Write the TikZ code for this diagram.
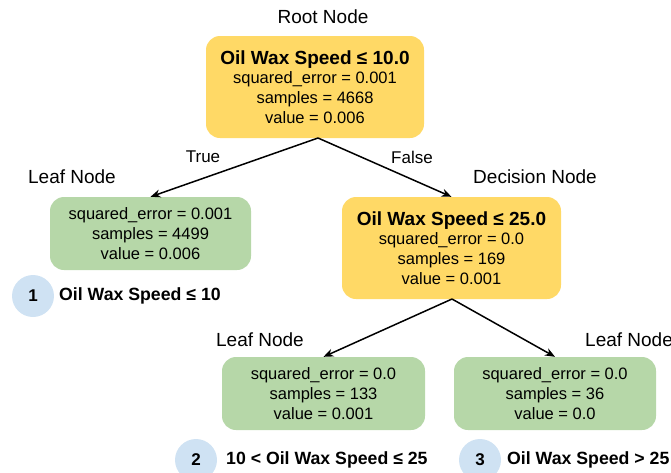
\documentclass[tikz,border=0pt]{standalone}
\usepackage{fontspec}
\setmainfont{Liberation Sans}
\usetikzlibrary{arrows.meta}
\definecolor{ylw}{HTML}{FFD966}
\definecolor{grn}{HTML}{B6D7A8}
\definecolor{blu}{HTML}{CFE2F3}
\newcommand\myttlfont{\bfseries\fontsize{19}{22}\selectfont}
\begin{document}
\begin{tikzpicture}[x=1pt,y=-1pt,
  box/.style={rounded corners=14pt, align=center, inner sep=0pt, font=\fontsize{16.5}{19.7}\selectfont},
  dnode/.style={box, fill=ylw},
  lnode/.style={box, fill=grn},
  lbl/.style={font=\fontsize{19}{22}\selectfont, inner sep=0pt},
  edge/.style={line width=1.5pt, -{Stealth[length=10pt,width=8pt]}},
  num/.style={circle, fill=blu, minimum size=42pt, inner sep=0pt, font=\bfseries\fontsize{17}{20}\selectfont},
  cond/.style={font=\bfseries\fontsize{17.7}{21}\selectfont, inner sep=0pt, anchor=west}]
\useasboundingbox (0,0) rectangle (671,472);
\clip (0,0) rectangle (671,472);
% boxes
\node[dnode, minimum width=218pt, minimum height=102pt] (root) at (315,87)
  {{\myttlfont Oil Wax Speed ≤ 10.0}\\squared\_error = 0.001\\samples = 4668\\value = 0.006};
\node[lnode, minimum width=201pt, minimum height=73pt] (leafA) at (150.5,233.5)
  {squared\_error = 0.001\\samples = 4499\\value = 0.006};
\node[dnode, minimum width=219pt, minimum height=102pt] (dec) at (451.5,248)
  {{\myttlfont Oil Wax Speed ≤ 25.0}\\squared\_error = 0.0\\samples = 169\\value = 0.001};
\node[lnode, minimum width=203pt, minimum height=73pt] (leafB) at (323.5,393.5)
  {squared\_error = 0.0\\samples = 133\\value = 0.001};
\node[lnode, minimum width=202pt, minimum height=73pt] (leafC) at (555,393.5)
  {squared\_error = 0.0\\samples = 36\\value = 0.0};
% titles
\node[lbl] (troot) at (323,17) {Root Node};
\node[lbl] (tleafA) at (72,177) {Leaf Node};
\node[lbl] (tdec) at (535,177) {Decision Node};
\node[lbl] (tleafB) at (260,340) {Leaf Node};
\node[lbl, anchor=west] (tleafC) at (585,340) {Leaf Node};
% edges
\coordinate (rb) at (318,138);
\coordinate (db) at (452,299);
\draw[edge] (rb) -- (leafA.north);
\draw[edge] (rb) -- (dec.north);
\draw[edge] (db) -- (leafB.north);
\draw[edge] (db) -- (leafC.north);
\node[lbl, font=\fontsize{17}{20}\selectfont] (ltrue) at (203,157) {True};
\node[lbl, font=\fontsize{17}{20}\selectfont] (lfalse) at (412,157) {False};
% numbered conditions
\node[num] (n1) at (33,296) {1};
\node[cond] (c1) at (59,296) {Oil Wax Speed ≤ 10};
\node[num] (n2) at (196,460) {2};
\node[cond] (c2) at (226,460) {10 < Oil Wax Speed ≤ 25};
\node[num] (n3) at (480,460) {3};
\node[cond] (c3) at (507,460) {Oil Wax Speed > 25};
\end{tikzpicture}
\end{document}
